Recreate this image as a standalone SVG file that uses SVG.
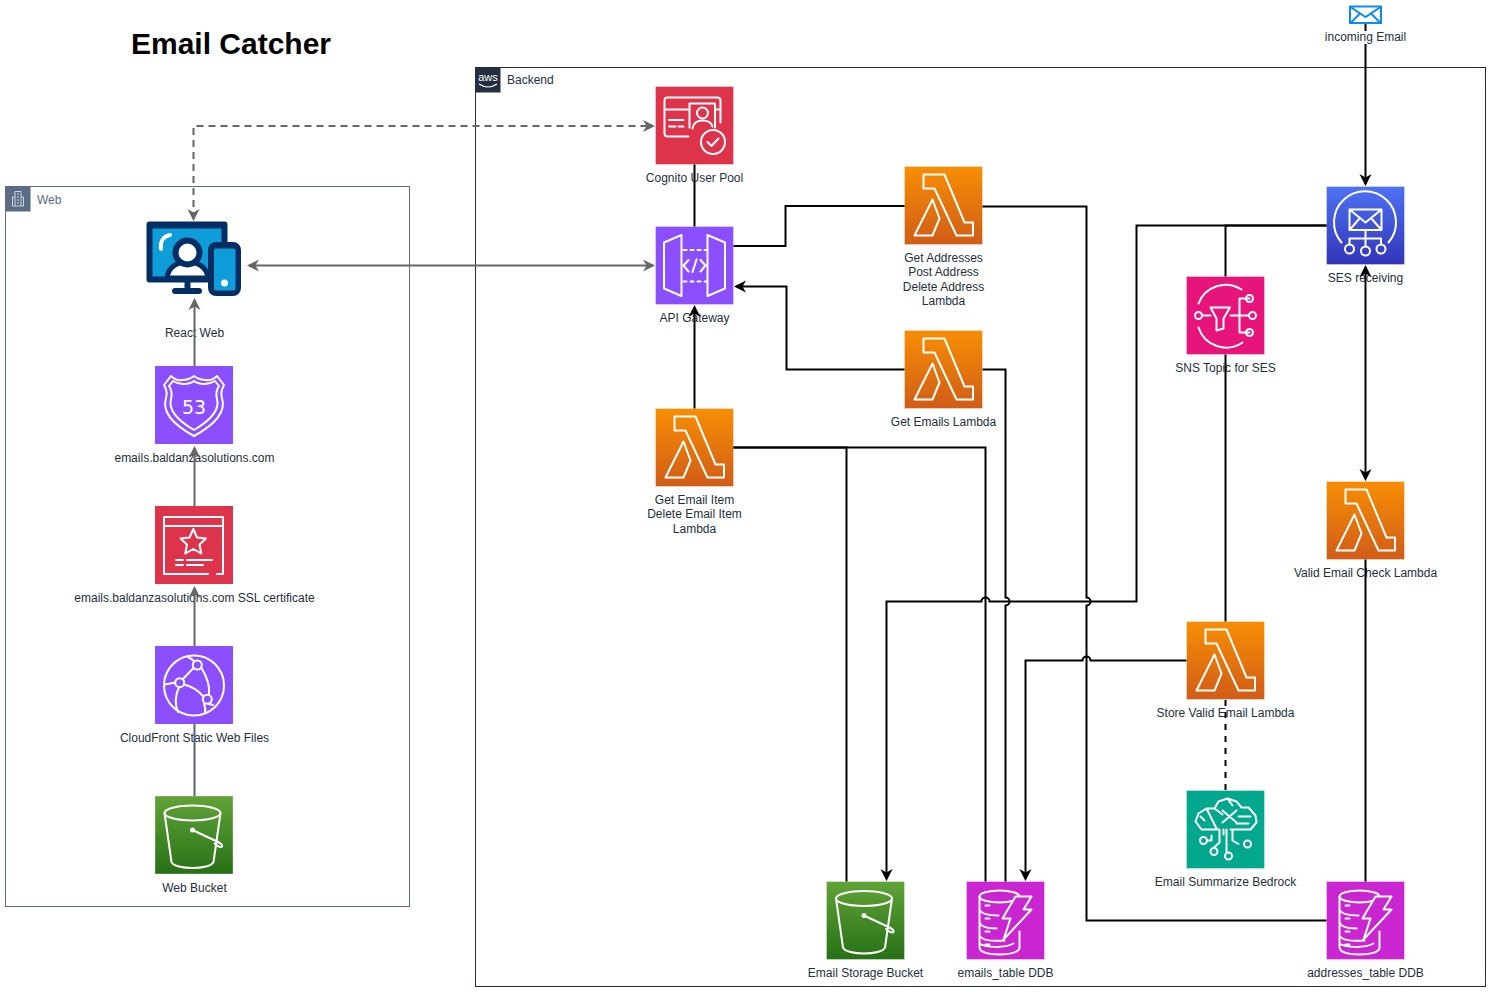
<svg xmlns="http://www.w3.org/2000/svg" width="1491" height="992" viewBox="0 0 1491 992">
<style>
text{font-family:"Liberation Sans",Arial,sans-serif;font-size:12px;fill:#232F3E;text-anchor:middle}
.i{fill:none;stroke:#fff;stroke-width:2;stroke-linejoin:round;stroke-linecap:round}
.b{fill:none;stroke:#fff;stroke-opacity:.35;stroke-width:1}
.c{fill:none;stroke:#000;stroke-width:2}
.g{fill:none;stroke:#666;stroke-width:2}
.g2{fill:none;stroke:#5A6470;stroke-width:2}
.ar{marker-end:url(#ak)}
.bi{marker-start:url(#ak);marker-end:url(#ak)}
.agr{marker-end:url(#ag)}
.bg{marker-start:url(#ag);marker-end:url(#ag)}
</style>
<defs>
<marker id="ak" markerUnits="userSpaceOnUse" markerWidth="16" markerHeight="16" viewBox="0 0 16 16" refX="10" refY="8" orient="auto-start-reverse"><path d="M0 2 L12 8 L0 14 L3.500 8Z" fill="#000"/></marker>
<marker id="ag" markerUnits="userSpaceOnUse" markerWidth="16" markerHeight="16" viewBox="0 0 16 16" refX="10" refY="8" orient="auto-start-reverse"><path d="M0 2 L12 8 L0 14 L3.500 8Z" fill="#666"/></marker>
<linearGradient id="gl" x1="0" y1="0" x2="0" y2="1"><stop offset="0" stop-color="#F78E04"/><stop offset="1" stop-color="#D05C17"/></linearGradient>
<linearGradient id="gs" x1="0" y1="0" x2="0" y2="1"><stop offset="0" stop-color="#60A337"/><stop offset="1" stop-color="#277116"/></linearGradient>
<linearGradient id="ge" x1="0" y1="0" x2="0" y2="1"><stop offset="0" stop-color="#4D72F3"/><stop offset="1" stop-color="#3334B9"/></linearGradient>
<symbol id="lambda" width="78" height="78" viewBox="0 0 78 78" overflow="visible"><rect width="78" height="78" fill="url(#gl)"/><rect class="b" width="78" height="78"/><path class="i" d="M19 8H40L60 56H68.500V69H52L30 22H19ZM28 33L10 69H28L35 52Z"/></symbol>
<symbol id="bucket" width="78" height="78" viewBox="0 0 78 78" overflow="visible"><rect width="78" height="78" fill="url(#gs)"/><rect class="b" width="78" height="78"/><g class="i"><ellipse cx="37.500" cy="17" rx="28" ry="7.500"/><path d="M9.500 17L16.500 66C18 70 28 72 37.500 72S57 70 58.500 66L65.500 17"/><path d="M37.500 34L62 45.500C66 47.500 68 49 67 50.500S61 49.500 59.500 47.500"/><circle cx="37.500" cy="34" r="1.500" fill="#fff"/></g></symbol>
<symbol id="ddb" width="78" height="78" viewBox="0 0 78 78" overflow="visible"><rect width="78" height="78" fill="#C925D1"/><rect class="b" width="78" height="78"/><g class="i"><ellipse cx="33" cy="15" rx="20" ry="6"/><path d="M13 15V66C13 71 23 73 33 73S53 71 53 66V50M13 28C15 33 24 34 32 34M13 41C15 46 24 47 30 47M13 54C15 59 24 60 38 59M13 62C18 66 38 67 47 62M19 24h4M19 37h4M19 50h4M19 63h4"/><path d="M49 15H65L57 28H65L37 58L44 37H36Z" fill="#C925D1"/></g></symbol>
</defs>
<rect width="1491" height="992" fill="#fff"/>
<g id="title"><text x="231" y="54" style="font-size:30px;font-weight:bold;fill:#000">Email Catcher</text></g>
<g id="web-group">
<rect x="5.500" y="186.500" width="404" height="720" fill="none" stroke="#5A6C86"/>
<rect x="5.500" y="186.500" width="25" height="25" fill="#5A6C86"/>
<path d="M12.500 206V197H15V191.500H21V197H23.500V206ZM15 197V206M21 197V206M17 194h2M17 197h2M17 200h2M17 203h2" fill="none" stroke="#fff" stroke-opacity=".7" stroke-width="1"/>
<text x="37" y="204" style="text-anchor:start;fill:#5A6C86">Web</text>
</g>
<g id="backend-group">
<rect x="475.500" y="67.500" width="1010" height="919" fill="none" stroke="#232F3E"/>
<rect x="475.500" y="67.500" width="25" height="25" fill="#232F3E"/>
<text x="488" y="81" style="font-size:11px;fill:#fff">aws</text>
<path d="M479 84Q488 90 497 84" fill="none" stroke="#fff" stroke-width="1.200"/>
<text x="507" y="84" style="text-anchor:start">Backend</text>
</g>
<g id="react-web">
<rect x="146.500" y="221.500" width="81" height="61" rx="3" fill="#032E63"/>
<rect x="152.500" y="228.500" width="69" height="48" fill="#0E9DD9"/>
<path d="M161 249C160 241 164 236 170 235" fill="none" stroke="#fff" stroke-width="4" stroke-linecap="round"/>
<path d="M167 278C168 267 177 262 187.500 262S207 267 208 278Z" fill="#fff" stroke="#032E63" stroke-width="5"/>
<circle cx="187.500" cy="252.500" r="12" fill="#fff" stroke="#032E63" stroke-width="6"/>
<path d="M187.500 282V291" stroke="#032E63" stroke-width="6"/>
<rect x="172" y="288" width="30" height="6" rx="3" fill="#032E63"/>
<rect x="208" y="242" width="33" height="54" rx="8" fill="#032E63"/>
<rect x="214" y="248.500" width="21.500" height="42" rx="2" fill="#0E9DD9"/>
<circle cx="224.500" cy="283" r="3.500" fill="#fff"/>
<text x="194.500" y="337">React Web</text>
</g>
<g id="route53">
<rect x="155" y="366" width="78" height="78" fill="#8C4FFF"/>
<g class="i"><path d="M16 10Q21 15 27 14Q34 14 39 10Q44 14 51 14Q57 15 62 10L69 19Q65 26 67 32C71 45 61 58 39 70C17 58 7 45 11 32Q13 26 9 19Z" transform="translate(155 366)"/><path d="M18 15Q23 18 28 18Q35 18 39 15Q43 18 50 18Q55 18 60 15L64 20Q60 26 62 33C65 44 56 54 39 64C22 54 13 44 16 33Q18 26 14 20Z" transform="translate(155 366)"/></g>
<text x="194" y="414" style="font-size:19px;fill:#fff;font-family:'DejaVu Sans',sans-serif">53</text>
<text x="194.500" y="462">emails.baldanzasolutions.com</text>
</g>
<g id="certificate">
<rect x="155" y="506" width="78" height="78" fill="#DD344C"/>
<g class="i" transform="translate(155 506)"><path d="M53 68H9V11H68V68H62M9 20H68M21 54H28M32 54H57M21 59H28M32 59H48"/><path d="M38.300 23L42 31.500L51 32.500L44.500 38.500L46.300 47.500L38.300 43L30.300 47.500L32 38.500L25.500 32.500L34.500 31.500Z"/></g>
<text x="194.500" y="602">emails.baldanzasolutions.com SSL certificate</text>
</g>
<g id="cloudfront">
<rect x="155" y="646" width="78" height="78" fill="#8C4FFF"/>
<g class="i" transform="translate(155 646)"><circle cx="39" cy="39.500" r="30"/><circle cx="42.300" cy="19" r="4.500"/><circle cx="24.700" cy="36.700" r="4.500"/><circle cx="52.300" cy="53.300" r="4.500"/><path d="M38.500 22L28 33M29 38.500Q40 41 48.500 50.500M46.500 22C52 31 55 40 54 48.500M20 36.500L10 38.500M24 41C20 50 20 59 23 66M33 11Q37 13 39.500 15.500M49 58Q51 63 50 66M54 58L58 59"/></g>
<text x="194.500" y="742">CloudFront Static Web Files</text>
</g>
<g id="web-bucket"><use href="#bucket" x="155" y="796"/><text x="194.500" y="892">Web Bucket</text></g>
<g id="cognito">
<rect x="655.500" y="86.500" width="78" height="78" fill="#DD344C"/><rect class="b" x="655.500" y="86.500" width="78" height="78"/>
<g class="i" transform="translate(655.500 86.500)"><path d="M33 50H12A3 3 0 0 1 9 47V14A3 3 0 0 1 12 11H62A3 3 0 0 1 65 14V36M9 23H34M60 23H65M34 41V17H59.500V41M13.500 33.500H28M13.500 40H20M23 40H28"/><circle cx="47" cy="26.500" r="5.500"/><path d="M37 42C38 36 42 34 47 34S56 36 57 40"/><circle cx="57.500" cy="55.500" r="12"/><path d="M52 55.500L56 59.500L63 52"/></g>
<text x="694.500" y="182">Cognito User Pool</text>
</g>
<g id="api-gateway">
<rect x="655.500" y="226.500" width="78" height="78" fill="#8C4FFF"/><rect class="b" x="655.500" y="226.500" width="78" height="78"/>
<g class="i" transform="translate(655.500 226.500)"><path d="M8.500 16L26 8.500V69.500L8.500 62ZM52 8.500L69.500 16V62L52 69.500ZM33 33.500L28 39L33 45M41 33L37 45.500M45 33.500L50 39L45 45"/><path d="M28 23.500H52M28 55H52" stroke-dasharray="3 4"/></g>
<text x="694.500" y="322">API Gateway</text>
</g>
<g id="get-addresses"><use href="#lambda" x="904.500" y="166.500"/><text x="943.500" y="262">Get Addresses</text><text x="943.500" y="276">Post Address</text><text x="943.500" y="291">Delete Address</text><text x="943.500" y="305">Lambda</text></g>
<g id="get-emails"><use href="#lambda" x="904.500" y="330.500"/><text x="943.500" y="426">Get Emails Lambda</text></g>
<g id="get-email-item"><use href="#lambda" x="655.500" y="408.500"/><text x="694.500" y="504">Get Email Item</text><text x="694.500" y="518">Delete Email Item</text><text x="694.500" y="533">Lambda</text></g>
<g id="ses">
<rect x="1326.500" y="186.500" width="78" height="78" fill="url(#ge)"/><rect class="b" x="1326.500" y="186.500" width="78" height="78"/>
<g class="i" transform="translate(1326.500 186.500)"><path d="M15 56A31 31 0 1 1 62 56M23 23H55V43.500H23ZM23 23L39 36L55 23M23 43.500L33 32M55 43.500L45 32M39 43.500V60M23 58V52H54.500V58"/><circle cx="23" cy="62.500" r="4.500"/><circle cx="39" cy="64.500" r="4.500"/><circle cx="54.500" cy="62.500" r="4.500"/></g>
<text x="1365.500" y="282">SES receiving</text>
</g>
<g id="sns">
<rect x="1186.500" y="276.500" width="78" height="78" fill="#E7157B"/><rect class="b" x="1186.500" y="276.500" width="78" height="78"/>
<g class="i" transform="translate(1186.500 276.500)"><path d="M55 13A29 29 0 0 0 12 27M12 51A29 29 0 0 0 56 66M16 39H24M24 31H43.500L37 42V52L30 54V42ZM44 39H62M63 22H53V56H63"/><circle cx="12" cy="39" r="3.500"/><circle cx="63" cy="22" r="3.500"/><circle cx="66" cy="39" r="3.500"/><circle cx="63" cy="56" r="3.500"/></g>
<text x="1225.500" y="372">SNS Topic for SES</text>
</g>
<g id="valid-email"><use href="#lambda" x="1326.500" y="481.500"/><text x="1365.500" y="577">Valid Email Check Lambda</text></g>
<g id="store-valid"><use href="#lambda" x="1186.500" y="621.500"/><text x="1225.500" y="717">Store Valid Email Lambda</text></g>
<g id="bedrock">
<rect x="1186.500" y="790.500" width="78" height="78" fill="#01A88D"/><rect class="b" x="1186.500" y="790.500" width="78" height="78"/>
<g class="i" transform="translate(1186.500 790.500)"><path d="M32 39H15L9 31L12 23L20 18H28L32 11L41 8L50 11L55 17H62L69 25L70 32L64 39H44M20 18L30 38M14 26L18 30M28 18L36 24M41 8L46 15M36 20L50 32M50 20L36 32M52 26H64M50 33H62M33 39V52L27.500 57M46 39V50L52 53.500M40 39V61M25 45V50H21M37 39V44"/><circle cx="17" cy="50" r="3.500"/><circle cx="27.500" cy="61" r="3.500"/><circle cx="42" cy="65.500" r="3.500"/><circle cx="61" cy="53.500" r="3.500"/></g>
<text x="1225.500" y="886">Email Summarize Bedrock</text>
</g>
<g id="email-storage"><use href="#bucket" x="826.500" y="881.500"/><text x="865.500" y="977">Email Storage Bucket</text></g>
<g id="emails-table"><use href="#ddb" x="966.500" y="881.500"/><text x="1005.500" y="977">emails_table DDB</text></g>
<g id="addresses-table"><use href="#ddb" x="1326.500" y="881.500"/><text x="1365.500" y="977">addresses_table DDB</text></g>
<g id="connectors">
<path class="g bg" d="M193.500 219V126H653" stroke-dasharray="7 5"/>
<path class="g bg" d="M249 265.500H653"/>
<path class="g agr" d="M194.500 366V300"/>
<path class="g agr" d="M194.500 506V448"/>
<path class="g agr" d="M194.500 646V588"/>
<path class="g2" d="M194.500 796V724"/>
<path class="c" d="M694.500 164.500V226.500"/>
<path class="c ar" d="M694.500 408.500V307"/>
<path class="c" d="M733.500 246H785.500V206H904.500"/>
<path class="c ar" d="M904.500 369.500H786.500V286.500H736"/>
<path class="c" d="M982.500 206.500H1086.500V597.500A4 4 0 0 1 1086.500 605.500V920.500H1326.500"/>
<path class="c" d="M982.500 369.500H1005.500V597.500A4 4 0 0 1 1005.500 605.500V881.500"/>
<path class="c" d="M733.500 447.500H846.500V881.500"/>
<path class="c" d="M733.500 447.500H985.500V881.500"/>
<path class="c ar" d="M1326.500 225.500H1136.500V601.500H989.500A4 4 0 0 0 981.500 601.500H886.500V879"/>
<path class="c" d="M1326.500 225.500H1225.500V276.500M1225.500 354.500V621.500"/>
<path class="c ar" d="M1186.500 660.500H1090.500A4 4 0 0 0 1082.500 660.500H1025.500V879"/>
<path class="c" d="M1225.500 700V790.500" stroke-dasharray="6 6"/>
<path class="c bi" d="M1365.500 267V479"/>
<path class="c" d="M1365.500 559.500V881.500"/>
<path class="c ar" d="M1365.500 24V184"/>
</g>
<g id="incoming-email">
<rect x="1350" y="6.500" width="31" height="16.500" fill="#fff" stroke="#0A8CF0" stroke-width="2"/>
<path d="M1350.500 7L1365.500 17L1380.500 7M1350.500 23L1360 13.500M1380.500 23L1371 13.500" fill="none" stroke="#0A8CF0" stroke-width="2"/>
<rect x="1325" y="31" width="81" height="13" fill="#fff"/>
<text x="1365.500" y="41">incoming Email</text>
</g>
</svg>
